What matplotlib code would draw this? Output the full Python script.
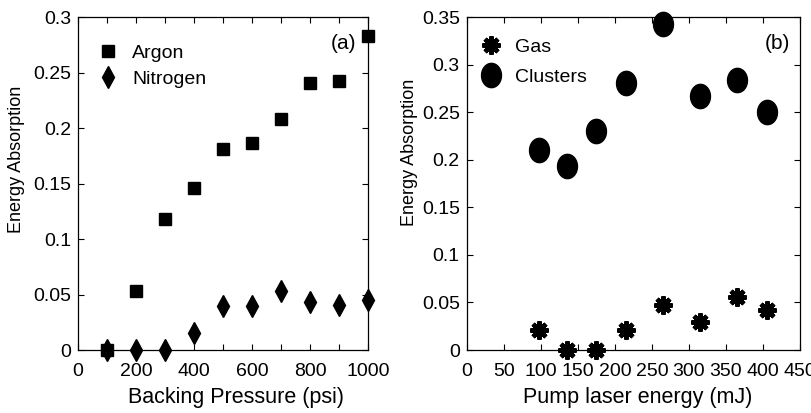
import numpy as np
import matplotlib
matplotlib.use("Agg")
from matplotlib import pyplot as plt
from matplotlib.path import Path

plt.rcParams['font.family'] = ['Liberation Sans', 'DejaVu Sans']

# panel (a)
pressure = [100, 200, 300, 400, 500, 600, 700, 800, 900, 1000]
argon = [0.0, 0.053, 0.118, 0.146, 0.181, 0.187, 0.208, 0.241, 0.242, 0.283]
nitrogen = [0.0, 0.0, 0.0, 0.015, 0.040, 0.040, 0.053, 0.043, 0.041, 0.045]

# panel (b)
pump = [97, 135, 175, 215, 265, 315, 365, 405]
clusters = [0.210, 0.193, 0.230, 0.281, 0.343, 0.267, 0.284, 0.250]
gas = [0.021, 0.0, 0.0, 0.021, 0.047, 0.029, 0.056, 0.042]

# slightly tall ellipse marker for the cluster points
t = np.linspace(0, 2 * np.pi, 60)
ellipse = Path(np.column_stack([0.41 * np.cos(t), 0.5 * np.sin(t)]), closed=True)

fig = plt.figure(figsize=(8.11, 4.13), dpi=100)
ax1 = fig.add_axes([0.0962, 0.1525, 0.3576, 0.806])
ax2 = fig.add_axes([0.5755, 0.1525, 0.411, 0.806])

ax1.plot(pressure, argon, 's', color='black', ms=9, label='Argon')
ax1.plot(pressure, nitrogen, 'd', color='black', ms=11, label='Nitrogen')
ax1.set_xlim(0, 1000)
ax1.set_ylim(0, 0.3)
ax1.set_xticks(range(0, 1001, 100))
ax1.set_xticklabels([str(v) if v % 200 == 0 else '' for v in range(0, 1001, 100)])
ax1.set_yticks([0, 0.05, 0.1, 0.15, 0.2, 0.25, 0.3])
ax1.set_yticklabels(['0', '0.05', '0.1', '0.15', '0.2', '0.25', '0.3'])
ax1.set_xlabel('Backing Pressure (psi)', fontsize=15.5)
ax1.xaxis.set_label_coords(0.545, -0.11)
ax1.set_ylabel('Energy Absorption', fontsize=13)
ax1.yaxis.set_label_coords(-0.183, 0.574)
ax1.text(0.96, 0.92, '(a)', transform=ax1.transAxes, ha='right', va='center', fontsize=15)
ax1.legend(loc='upper left', frameon=False, fontsize=14, numpoints=1,
           handlelength=1.0, handletextpad=0.75, labelspacing=0.45,
           bbox_to_anchor=(0.01, 0.972))

ax2.plot(pump, gas, marker=(8, 2, 0), ls='none', color='black', ms=13, mew=3.2, label='Gas')
ax2.plot(pump, clusters, marker=ellipse, ls='none', color='black', ms=17.5, label='Clusters')
ax2.set_xlim(0, 450)
ax2.set_ylim(0, 0.35)
ax2.set_xticks(range(0, 451, 50))
ax2.set_xticklabels(['0', '50', '100', '150', '200', '250', '300', '350', '400', '450'])
ax2.set_yticks([0, 0.05, 0.1, 0.15, 0.2, 0.25, 0.3, 0.35])
ax2.set_yticklabels(['0', '0.05', '0.1', '0.15', '0.2', '0.25', '0.3', '0.35'])
ax2.set_xlabel('Pump laser energy (mJ)', fontsize=15.5)
ax2.xaxis.set_label_coords(0.514, -0.11)
ax2.set_ylabel('Energy Absorption', fontsize=13)
ax2.yaxis.set_label_coords(-0.146, 0.595)
ax2.text(0.97, 0.92, '(b)', transform=ax2.transAxes, ha='right', va='center', fontsize=15)
ax2.legend(loc='upper left', frameon=False, fontsize=14, numpoints=1,
           handlelength=1.0, handletextpad=0.75, labelspacing=0.65,
           bbox_to_anchor=(-0.01, 0.99))

for ax in (ax1, ax2):
    ax.tick_params(direction='in', top=True, right=True, length=4, width=0.8,
                   labelsize=14, pad=5)
    ax.tick_params(axis='x', pad=9)
    for s in ax.spines.values():
        s.set_linewidth(0.9)
    for line in ax.get_lines():
        line.set_clip_on(False)

fig.savefig('out.png', dpi=100)
